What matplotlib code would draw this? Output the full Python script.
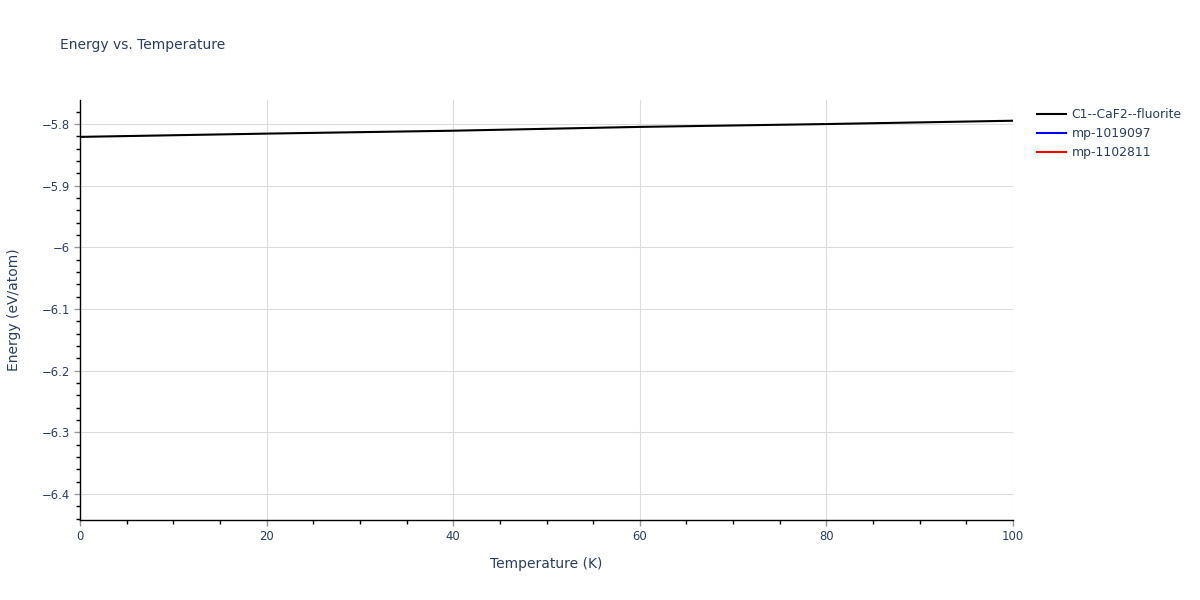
import matplotlib
matplotlib.use("Agg")
import matplotlib.pyplot as plt
from matplotlib.ticker import MultipleLocator, FixedLocator

# Data
temperature = [0, 20, 40, 60, 80, 100]
energy_fluorite = [-5.8208, -5.8155, -5.8108, -5.8046, -5.8000, -5.7946]
temperature_mp1019097 = []
energy_mp1019097 = []
temperature_mp1102811 = []
energy_mp1102811 = []

x_ticks = [0, 20, 40, 60, 80, 100]
y_ticks = [-6.4, -6.3, -6.2, -6.1, -6.0, -5.9, -5.8]
y_tick_labels = ["\u22126.4", "\u22126.3", "\u22126.2", "\u22126.1", "\u22126", "\u22125.9", "\u22125.8"]

plt.rcParams['font.family'] = ['DejaVu Sans']
text_color = '#2a3f5f'

fig = plt.figure(figsize=(12, 6), dpi=100)
ax = fig.add_axes([80/1200, 80/600, 933/1200, 420/600])

ax.plot(temperature, energy_fluorite, color='black', lw=1.5, label='C1--CaF2--fluorite', zorder=3)
ax.plot(temperature_mp1019097, energy_mp1019097, color='blue', lw=1.5, label='mp-1019097')
ax.plot(temperature_mp1102811, energy_mp1102811, color='red', lw=1.5, label='mp-1102811')

ax.set_xlim(0, 100)
ax.set_ylim(-6.442, -5.761)

ax.xaxis.set_major_locator(FixedLocator(x_ticks))
ax.xaxis.set_minor_locator(MultipleLocator(5))
ax.set_yticks(y_ticks)
ax.set_yticklabels(y_tick_labels)
ax.yaxis.set_minor_locator(MultipleLocator(0.02))

ax.grid(True, which='major', color='#dcdcdc', lw=0.8)
ax.set_axisbelow(True)

for s in ['top', 'right']:
    ax.spines[s].set_visible(False)
for s in ['left', 'bottom']:
    ax.spines[s].set_color('black')
    ax.spines[s].set_linewidth(1.0)

ax.tick_params(which='major', direction='out', length=4, width=1, color='#999999',
               labelsize=8.4, labelcolor=text_color, pad=3)
ax.tick_params(which='minor', direction='out', length=3, width=1, color='black')

ax.set_xlabel('Temperature (K)', fontsize=10, color=text_color, labelpad=10)
ax.set_ylabel('Energy (eV/atom)', fontsize=10, color=text_color, labelpad=15)

fig.text(60/1200, 1 - 45/600, 'Energy vs. Temperature', fontsize=10, color=text_color,
         va='center', ha='left')

leg = ax.legend(loc='upper left', bbox_to_anchor=(1.0204, 0.993), frameon=False,
                fontsize=8.9, handlelength=2.35, handletextpad=0.45, labelspacing=0.5,
                borderaxespad=0)
for t in leg.get_texts():
    t.set_color(text_color)

fig.savefig('out.png', dpi=100)
